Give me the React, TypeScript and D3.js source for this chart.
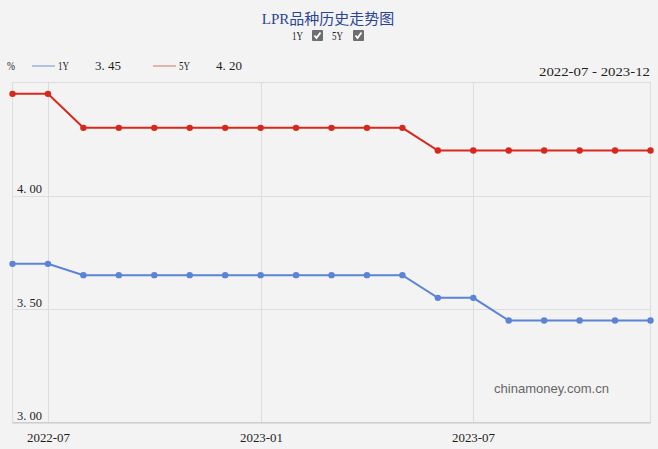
import React from "react";
import * as d3 from "d3";

const months = [
  "2022-06", "2022-07", "2022-08", "2022-09", "2022-10", "2022-11", "2022-12",
  "2023-01", "2023-02", "2023-03", "2023-04", "2023-05", "2023-06", "2023-07",
  "2023-08", "2023-09", "2023-10", "2023-11", "2023-12",
];
const lpr1Y = [3.7, 3.7, 3.65, 3.65, 3.65, 3.65, 3.65, 3.65, 3.65, 3.65, 3.65, 3.65, 3.55, 3.55, 3.45, 3.45, 3.45, 3.45, 3.45];
const lpr5Y = [4.45, 4.45, 4.3, 4.3, 4.3, 4.3, 4.3, 4.3, 4.3, 4.3, 4.3, 4.3, 4.2, 4.2, 4.2, 4.2, 4.2, 4.2, 4.2];
const xTicks = ["2022-07", "2023-01", "2023-07"];
const yTicks = [3.0, 3.5, 4.0];
const seriesNames = ["1Y", "5Y"];
const latest = ["3.45", "4.20"];

const W = 658;
const H = 449;
const M = { left: 12.5, right: 650.5, top: 82.5, bottom: 422.5 };
const BG = "#f3f3f3";
const GRID = "#dddddd";
const BLUE = "#5b83d6";
const RED = "#d7281d";
const SERIF = "'Liberation Serif', 'DejaVu Serif', serif";
const INK = "#1e1e1e";

function T(props: {
  x: number;
  y: number;
  w: number;
  anchor?: "start" | "middle" | "end";
  size?: number;
  fill?: string;
  children: string;
}) {
  return (
    <text
      x={props.x}
      y={props.y}
      textAnchor={props.anchor || "start"}
      fontSize={props.size || 12}
      fontFamily={SERIF}
      fill={props.fill || INK}
      textLength={props.w}
      lengthAdjust="spacingAndGlyphs"
    >
      {props.children}
    </text>
  );
}

export default function App() {
  const x = d3.scalePoint<string>().domain(months).range([M.left, M.right]);
  const y = d3.scaleLinear().domain([3.0, 4.5]).range([M.bottom, M.top]);
  const line = d3
    .line<number>()
    .x((_, i) => x(months[i]) as number)
    .y((d) => y(d));

  const series = [
    { name: seriesNames[0], data: lpr1Y, color: BLUE, legend: "#b3c2e2", val: latest[0] },
    { name: seriesNames[1], data: lpr5Y, color: RED, legend: "#e2b3b0", val: latest[1] },
  ];

  const fmt = (v: number) => v.toFixed(2).replace(".", ". ");

  return (
    <svg
      width={W}
      height={H}
      style={{ position: "absolute", left: 0, top: 0, background: BG }}
    >
      <rect x={0} y={0} width={W} height={H} fill={BG} />
      <text
        x={328}
        y={24}
        textAnchor="middle"
        fontSize={15}
        fill="#2b4596"
        fontFamily="'Liberation Serif', 'Noto Sans CJK SC', serif"
      >
        LPR品种历史走势图
      </text>
      {/* checkboxes */}
      {[
        { label: "1Y", tx: 292, bx: 312 },
        { label: "5Y", tx: 332, bx: 353 },
      ].map((c) => (
        <g key={c.label}>
          <T x={c.tx} y={40} w={11}>{c.label}</T>
          <rect x={c.bx} y={30} width={11} height={11} fill="#6e6e6e" rx={1} />
          <path
            d={`M${c.bx + 2.5},${35.5} L${c.bx + 4.5},${38} L${c.bx + 8.5},${32.5}`}
            stroke="#fff"
            strokeWidth={1.8}
            fill="none"
          />
        </g>
      ))}
      {/* legend row */}
      <T x={7} y={70} w={8}>%</T>
      {series.map((s, i) => {
        const ox = i === 0 ? 32 : 153;
        return (
          <g key={s.name}>
            <line x1={ox} x2={ox + 23} y1={66} y2={66} stroke={s.legend} strokeWidth={2} />
            <T x={ox + 26} y={70} w={11}>{s.name}</T>
            <T x={ox + 63} y={70} w={26}>{s.val.replace(".", ". ")}</T>
          </g>
        );
      })}
      <T x={650} y={76} w={111} anchor="end">{"2022-07 - 2023-12"}</T>

      {/* plot frame & grid */}
      <rect
        x={M.left}
        y={M.top}
        width={M.right - M.left}
        height={M.bottom - M.top}
        fill={BG}
        stroke={GRID}
      />
      {yTicks.map((t) => (
        <line
          key={t}
          x1={M.left}
          x2={M.right}
          y1={Math.round(y(t)) + 0.5}
          y2={Math.round(y(t)) + 0.5}
          stroke={GRID}
        />
      ))}
      {xTicks.map((t) => {
        const px = Math.round(x(t) as number) + 0.5;
        return (
          <g key={t}>
            <line x1={px} x2={px} y1={M.top} y2={M.bottom} stroke={GRID} />
            <T x={px} y={442} w={43} anchor="middle">{t}</T>
          </g>
        );
      })}
      <line x1={M.left} x2={M.right} y1={M.bottom} y2={M.bottom} stroke="#cfcfcf" />
      {yTicks.map((t) => (
        <T key={"l" + t} x={42} y={y(t) - 2.5} w={25} anchor="end">
          {fmt(t)}
        </T>
      ))}

      <text
        x={494}
        y={393}
        fontSize={13}
        fontFamily="'Liberation Sans', Arial, sans-serif"
        fill="#666"
        textLength={115}
        lengthAdjust="spacingAndGlyphs"
      >
        chinamoney.com.cn
      </text>

      {series.map((s) => (
        <g key={"s" + s.name}>
          <path d={line(s.data) || ""} fill="none" stroke={s.color} strokeWidth={2} />
          {s.data.map((v, i) => (
            <circle key={i} cx={x(months[i]) as number} cy={y(v)} r={3.2} fill={s.color} />
          ))}
        </g>
      ))}
    </svg>
  );
}
